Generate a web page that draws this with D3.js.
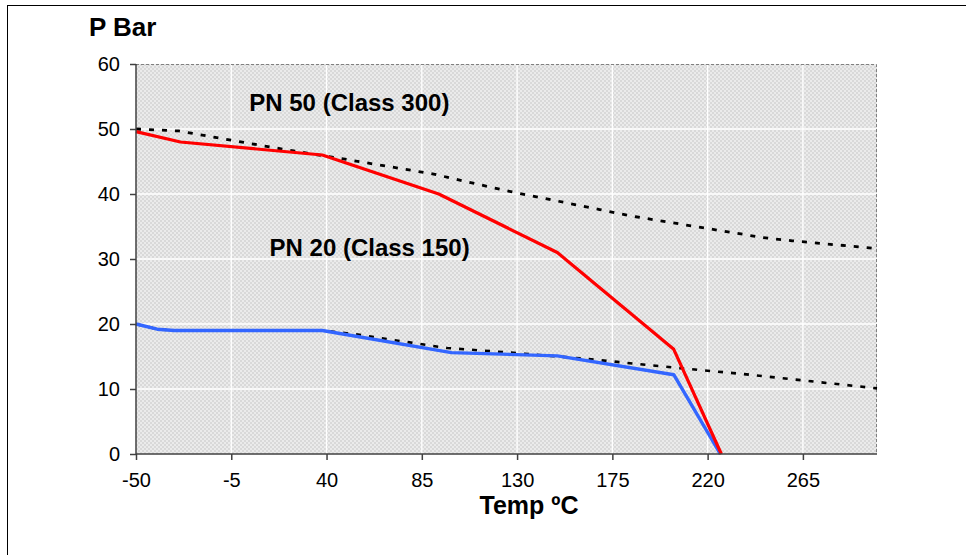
<!DOCTYPE html>
<html>
<head>
<meta charset="utf-8">
<script src="https://cdn.jsdelivr.net/npm/d3@7"></script>
<style>
  body { margin: 0; background: #fff; }
  text { font-family: "Liberation Sans", Arial, sans-serif; }
</style>
</head>
<body>
<div id="chart"></div>
<script>
// chart values
const xTicks = [-50, -5, 40, 85, 130, 175, 220, 265];
const yTicks = [0, 10, 20, 30, 40, 50, 60];

// PN 50 (Class 300) curve
const pn50Temp = [-50, -29, 38, 93, 149, 204, 226.5];
const pn50Bar = [49.6, 48, 46, 40, 31, 16.1, 0];

// PN 20 (Class 150) curve
const pn20Temp = [-50, -40, -32, 38, 99, 149, 204, 226];
const pn20Bar = [20, 19.2, 19, 19, 15.6, 15.1, 12.2, 0];

// dotted reference lines
const ref300Temp = [-50, -30, 21, 46, 90, 125, 169, 186, 246, 260, 300];
const ref300Bar = [50, 49.7, 46.8, 45.5, 43.1, 40.5, 37.6, 36.5, 33.3, 32.8, 31.6];
const ref150Temp = [-50, -40, -32, 38, 54, 97, 127, 164, 207, 237, 260, 300];
const ref150Bar = [20, 19.2, 19, 19, 18.4, 16.3, 15.6, 14.6, 13.2, 12.3, 11.5, 10.1];

// svg setup
let svgWidth = 966;
let svgHeight = 555;
let margin = { top: 64, left: 136, right: 89, bottom: 101 };
let width = svgWidth - margin.left - margin.right;
let height = svgHeight - margin.top - margin.bottom;

let svg = d3.select("#chart")
    .append("svg")
    .attr("width", svgWidth)
    .attr("height", svgHeight);

// outer frame (runs off the right and bottom)
svg.append("rect")
    .attr("x", 7.5)
    .attr("y", 5.5)
    .attr("width", 1000)
    .attr("height", 600)
    .attr("fill", "none")
    .attr("stroke", "#000");

// checker pattern for the plot area
let defs = svg.append("defs");
let pat = defs.append("pattern")
    .attr("id", "checker")
    .attr("width", 4)
    .attr("height", 4)
    .attr("patternUnits", "userSpaceOnUse");
pat.append("rect").attr("width", 4).attr("height", 4).attr("fill", "#ebebeb");
pat.append("rect").attr("width", 2).attr("height", 2).attr("fill", "#d9d9d9");
pat.append("rect").attr("x", 2).attr("y", 2).attr("width", 2).attr("height", 2).attr("fill", "#d9d9d9");

let chartGroup = svg.append("g")
    .attr("transform", `translate(${margin.left},${margin.top})`);

// scales
let x = d3.scaleLinear().domain([-50, 300]).range([0, width]);
let y = d3.scaleLinear().domain([0, 60]).range([height, 0]);

chartGroup.append("rect")
    .attr("width", width)
    .attr("height", height)
    .attr("fill", "url(#checker)");

// white grid lines
chartGroup.selectAll(".vgrid")
    .data(xTicks.slice(1))
    .enter()
    .append("line")
    .attr("x1", d => x(d)).attr("x2", d => x(d))
    .attr("y1", 0).attr("y2", height)
    .attr("stroke", "#fff")
    .attr("stroke-width", 1.3);
chartGroup.selectAll(".hgrid")
    .data(yTicks.slice(1, -1))
    .enter()
    .append("line")
    .attr("x1", 0).attr("x2", width)
    .attr("y1", d => y(d)).attr("y2", d => y(d))
    .attr("stroke", "#fff")
    .attr("stroke-width", 1.3);

// dashed top and right border
chartGroup.append("path")
    .attr("d", `M0,0.5H${width - 0.5}V${height}`)
    .attr("fill", "none")
    .attr("stroke", "#808080")
    .attr("stroke-dasharray", "3,2");

// lines
let line = d3.line()
    .x(d => x(d[0]))
    .y(d => y(d[1]));

function drawLine(temps, bars, color, w, dash) {
    let path = chartGroup.append("path")
        .datum(d3.zip(temps, bars))
        .attr("d", line)
        .attr("fill", "none")
        .attr("stroke", color)
        .attr("stroke-width", w)
        .attr("stroke-linejoin", "round");
    if (dash) path.attr("stroke-dasharray", dash);
}
drawLine(ref300Temp, ref300Bar, "#000", 2.8, "5,8");
drawLine(ref150Temp, ref150Bar, "#000", 2.6, "5,8");
drawLine(pn20Temp, pn20Bar, "#3366ff", 3.4);
drawLine(pn50Temp, pn50Bar, "#ff0000", 3.2);

// axes
let bottomAxis = d3.axisBottom(x).tickValues(xTicks).tickFormat(d => String(d)).tickSize(6).tickPadding(13);
let leftAxis = d3.axisLeft(y).tickValues(yTicks).tickFormat(d => String(d)).tickSize(6).tickPadding(10);

let xAxisG = chartGroup.append("g")
    .attr("transform", `translate(0,${height})`)
    .call(bottomAxis);
let yAxisG = chartGroup.append("g")
    .call(leftAxis);

[xAxisG, yAxisG].forEach(g => {
    g.select(".domain").attr("stroke", "#404040").attr("stroke-width", 1.5);
    g.selectAll(".tick line").attr("stroke", "#404040").attr("stroke-width", 1.5);
    g.selectAll("text")
        .attr("fill", "#000")
        .style("font-size", "20px")
        .style("font-family", "'Liberation Sans', Arial, sans-serif");
});
xAxisG.select(".domain").attr("d", `M0,0H${width}`);
yAxisG.select(".domain").attr("d", `M0,${height}V0`);

// annotations
chartGroup.append("text")
    .attr("x", x(-5) + 18)
    .attr("y", y(50) - 18)
    .attr("font-size", "24px")
    .attr("font-weight", "bold")
    .text("PN 50 (Class 300)");
chartGroup.append("text")
    .attr("x", x(40) - 57)
    .attr("y", y(30) - 3)
    .attr("font-size", "24px")
    .attr("font-weight", "bold")
    .text("PN 20 (Class 150)");

// axis titles
svg.append("text")
    .attr("x", 89)
    .attr("y", 36)
    .attr("font-size", "26px")
    .attr("font-weight", "bold")
    .text("P Bar");
svg.append("text")
    .attr("x", 529)
    .attr("y", 514)
    .attr("text-anchor", "middle")
    .attr("font-size", "25px")
    .attr("font-weight", "bold")
    .text("Temp ºC");
</script>
</body>
</html>
